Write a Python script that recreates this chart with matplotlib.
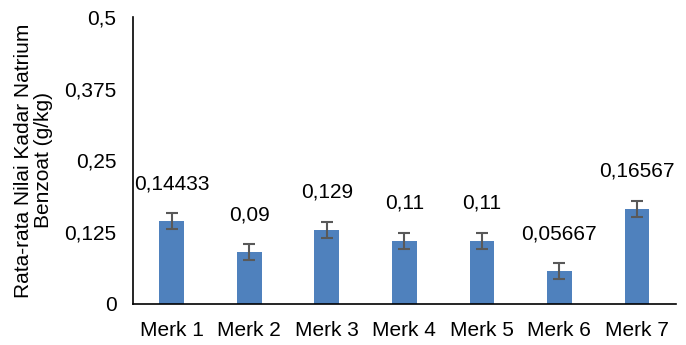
import matplotlib
matplotlib.use("Agg")
import matplotlib.pyplot as plt

categories = ["Merk 1", "Merk 2", "Merk 3", "Merk 4", "Merk 5", "Merk 6", "Merk 7"]
values = [0.14433, 0.09, 0.129, 0.11, 0.11, 0.05667, 0.16567]
errors = [0.014, 0.014, 0.014, 0.014, 0.014, 0.014, 0.014]
labels = ["0,14433", "0,09", "0,129", "0,11", "0,11", "0,05667", "0,16567"]
yticks = [0, 0.125, 0.25, 0.375, 0.5]
yticklabels = ["0", "0,125", "0,25", "0,375", "0,5"]

plt.rcParams['font.family'] = ['Liberation Sans', 'DejaVu Sans']
fig = plt.figure(figsize=(6.86, 3.45), dpi=100)
ax = fig.add_axes([0.194, 0.119, 0.791, 0.832])
x = range(len(categories))
ax.bar(x, values, width=0.32, color="#4f81bd", yerr=errors,
       error_kw=dict(ecolor="#595959", elinewidth=1.5, capsize=4.5, capthick=1.5))
for xi, v, lab in zip(x, values, labels):
    ax.annotate(lab, (xi, v), xytext=(0, 27), textcoords="offset points",
                ha="center", va="center", fontsize=15, color="black")
ax.set_xlim(-0.5, 6.5)
ax.set_ylim(0, 0.5)
ax.set_yticks(yticks)
ax.set_yticklabels(yticklabels)
ax.set_xticks(list(x))
ax.set_xticklabels(categories)
ax.tick_params(axis='y', length=0, labelsize=15, pad=12)
ax.tick_params(axis='x', length=0, labelsize=15, pad=12)
for s in ["top", "right"]:
    ax.spines[s].set_visible(False)
for s in ["left", "bottom"]:
    ax.spines[s].set_linewidth(1.2)
    ax.spines[s].set_color("black")
ax.set_ylabel("Rata-rata Nilai Kadar Natrium\nBenzoat (g/kg)", fontsize=15, labelpad=8, linespacing=1.1)
fig.savefig("out.png", dpi=100)
